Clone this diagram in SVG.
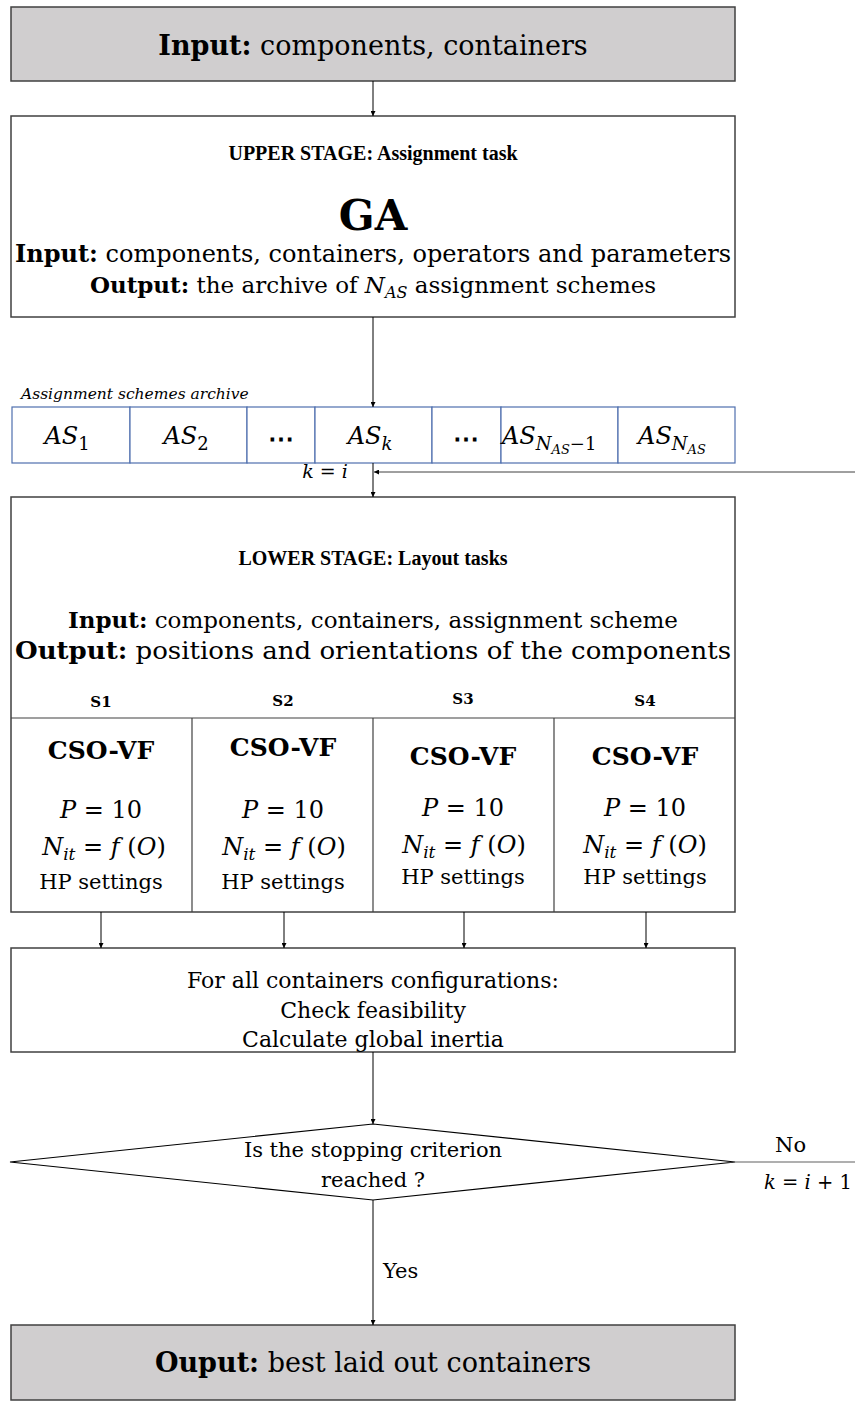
<svg xmlns="http://www.w3.org/2000/svg" width="855" height="1422" viewBox="0 0 855 1422">
<style>
text{font-family:"DejaVu Serif","Liberation Serif",serif;fill:#000}
.b{font-weight:bold}
.i{font-style:italic}
.m{text-anchor:middle}
.t{font-family:"Liberation Serif","DejaVu Serif",serif;font-weight:bold}
.box{fill:#fff;stroke:#404040;stroke-width:1.5}
.gray{fill:#d0cecf;stroke:#404040;stroke-width:1.5}
.cell{fill:#fff;stroke:#4f6fae;stroke-width:1.2}
.ln{stroke:#404040;stroke-width:1.2;fill:none}
.ar{stroke:#000;stroke-width:1;fill:none;marker-end:url(#ah)}
</style>
<defs>
<marker id="ah" viewBox="0 0 10 10" refX="10" refY="5" markerWidth="5" markerHeight="5" orient="auto-start-reverse" markerUnits="userSpaceOnUse">
<path d="M0,0 L10,5 L0,10 z" fill="#000"/>
</marker>
</defs>
<rect width="855" height="1422" fill="#fff"/>

<g id="input">
<rect class="gray" x="11" y="7" width="724" height="74"/>
<text class="m" x="373" y="55" font-size="27"><tspan class="b">Input:</tspan> components, containers</text>
</g>

<g id="upper">
<rect class="box" x="11" y="116" width="724" height="201"/>
<text class="m t" x="373" y="160" font-size="20">UPPER STAGE: Assignment task</text>
<text class="m b" x="373" y="230" font-size="42">GA</text>
<text class="m" x="373" y="262" font-size="24" textLength="716" lengthAdjust="spacingAndGlyphs"><tspan class="b">Input:</tspan> components, containers, operators and parameters</text>
<text class="m" x="373" y="293" font-size="23"><tspan class="b">Output:</tspan> the archive of <tspan class="i">N</tspan><tspan class="i" font-size="16" dy="5">AS</tspan><tspan dy="-5"> assignment schemes</tspan></text>
</g>

<g id="archive">
<text class="i" x="21" y="399" font-size="15.5">Assignment schemes archive</text>
<rect class="cell" x="12" y="407" width="118" height="56"/>
<rect class="cell" x="130" y="407" width="117" height="56"/>
<rect class="cell" x="247" y="407" width="68" height="56"/>
<rect class="cell" x="315" y="407" width="117" height="56"/>
<rect class="cell" x="432" y="407" width="69" height="56"/>
<rect class="cell" x="501" y="407" width="117" height="56"/>
<rect class="cell" x="618" y="407" width="117" height="56"/>
<text class="m" x="67" y="444" font-size="24"><tspan class="i">AS</tspan><tspan font-size="18" dy="6">1</tspan></text>
<text class="m" x="186" y="444" font-size="24"><tspan class="i">AS</tspan><tspan font-size="18" dy="6">2</tspan></text>
<text class="m b" x="281" y="448" font-size="26">⋯</text>
<text class="m" x="370" y="444" font-size="24"><tspan class="i">AS</tspan><tspan class="i" font-size="18" dy="6">k</tspan></text>
<text class="m b" x="466" y="448" font-size="26">⋯</text>
<text x="502" y="444" font-size="24"><tspan class="i">AS</tspan><tspan class="i" font-size="18" dy="6">N</tspan><tspan class="i" font-size="13" dy="4">AS</tspan><tspan font-size="18" dy="-4">−1</tspan></text>
<text class="m" x="672" y="444" font-size="24"><tspan class="i">AS</tspan><tspan class="i" font-size="18" dy="6">N</tspan><tspan class="i" font-size="13" dy="4">AS</tspan></text>
</g>

<g id="lower">
<rect class="box" x="11" y="497" width="724" height="415"/>
<line class="ln" x1="11" y1="718" x2="735" y2="718"/>
<line class="ln" x1="192" y1="718" x2="192" y2="912"/>
<line class="ln" x1="373" y1="718" x2="373" y2="912"/>
<line class="ln" x1="554" y1="718" x2="554" y2="912"/>
<text class="m t" x="373" y="565" font-size="20">LOWER STAGE: Layout tasks</text>
<text class="m" x="373" y="628" font-size="23"><tspan class="b">Input:</tspan> components, containers, assignment scheme</text>
<text class="m" x="373" y="659" font-size="24" textLength="716" lengthAdjust="spacingAndGlyphs"><tspan class="b">Output:</tspan> positions and orientations of the components</text>
</g>

<g id="s1">
<text class="m b" x="101" y="707" font-size="15">S1</text>
<text class="m b" x="101" y="759" font-size="25">CSO-VF</text>
<text class="m" x="101" y="818" font-size="24"><tspan class="i">P</tspan> = 10</text>
<text class="m" x="104" y="855" font-size="24"><tspan class="i">N</tspan><tspan class="i" font-size="17" dy="5">it</tspan><tspan dy="-5"> = </tspan><tspan class="i">f</tspan> (<tspan class="i">O</tspan>)</text>
<text class="m" x="101" y="889" font-size="21">HP settings</text>
</g>
<g id="s2">
<text class="m b" x="283" y="706" font-size="15">S2</text>
<text class="m b" x="283" y="756" font-size="25">CSO-VF</text>
<text class="m" x="283" y="818" font-size="24"><tspan class="i">P</tspan> = 10</text>
<text class="m" x="284" y="855" font-size="24"><tspan class="i">N</tspan><tspan class="i" font-size="17" dy="5">it</tspan><tspan dy="-5"> = </tspan><tspan class="i">f</tspan> (<tspan class="i">O</tspan>)</text>
<text class="m" x="283" y="889" font-size="21">HP settings</text>
</g>
<g id="s3">
<text class="m b" x="463" y="704" font-size="15">S3</text>
<text class="m b" x="463" y="765" font-size="25">CSO-VF</text>
<text class="m" x="463" y="816" font-size="24"><tspan class="i">P</tspan> = 10</text>
<text class="m" x="464" y="853" font-size="24"><tspan class="i">N</tspan><tspan class="i" font-size="17" dy="5">it</tspan><tspan dy="-5"> = </tspan><tspan class="i">f</tspan> (<tspan class="i">O</tspan>)</text>
<text class="m" x="463" y="884" font-size="21">HP settings</text>
</g>
<g id="s4">
<text class="m b" x="645" y="706" font-size="15">S4</text>
<text class="m b" x="645" y="765" font-size="25">CSO-VF</text>
<text class="m" x="645" y="816" font-size="24"><tspan class="i">P</tspan> = 10</text>
<text class="m" x="645" y="853" font-size="24"><tspan class="i">N</tspan><tspan class="i" font-size="17" dy="5">it</tspan><tspan dy="-5"> = </tspan><tspan class="i">f</tspan> (<tspan class="i">O</tspan>)</text>
<text class="m" x="645" y="884" font-size="21">HP settings</text>
</g>

<g id="check">
<rect class="box" x="11" y="948" width="724" height="104"/>
<text class="m" x="373" y="988" font-size="22">For all containers configurations:</text>
<text class="m" x="373" y="1018" font-size="22">Check feasibility</text>
<text class="m" x="373" y="1047" font-size="22">Calculate global inertia</text>
</g>

<g id="decision">
<polygon class="box" points="373,1124 735,1162 373,1200 10,1162" style="stroke:#000;stroke-width:1.2"/>
<text class="m" x="373" y="1157" font-size="21">Is the stopping criterion</text>
<text class="m" x="373" y="1187" font-size="21">reached ?</text>
</g>

<g id="output">
<rect class="gray" x="11" y="1325" width="724" height="75"/>
<text class="m" x="373" y="1372" font-size="27"><tspan class="b">Ouput:</tspan> best laid out containers</text>
</g>

<g id="connectors">
<line class="ar" x1="373" y1="81" x2="373" y2="116"/>
<line class="ar" x1="373" y1="317" x2="373" y2="407"/>
<line class="ar" x1="373" y1="463" x2="373" y2="497"/>
<line class="ar" x1="855" y1="472" x2="374" y2="472" style="stroke:#404040"/>
<text class="m" x="325" y="478" font-size="19"><tspan class="i">k</tspan> = <tspan class="i">i</tspan></text>
<line class="ar" x1="101" y1="912" x2="101" y2="948"/>
<line class="ar" x1="284" y1="912" x2="284" y2="948"/>
<line class="ar" x1="464" y1="912" x2="464" y2="948"/>
<line class="ar" x1="646" y1="912" x2="646" y2="948"/>
<line class="ar" x1="373" y1="1052" x2="373" y2="1124"/>
<line class="ln" x1="735" y1="1162" x2="855" y2="1162" style="stroke:#606060"/>
<text x="775" y="1152" font-size="21">No</text>
<text x="852" y="1189" font-size="19.5" text-anchor="end"><tspan class="i">k</tspan> = <tspan class="i">i</tspan> + 1</text>
<line class="ar" x1="373" y1="1200" x2="373" y2="1325"/>
<text x="383" y="1278" font-size="21">Yes</text>
</g>
</svg>
